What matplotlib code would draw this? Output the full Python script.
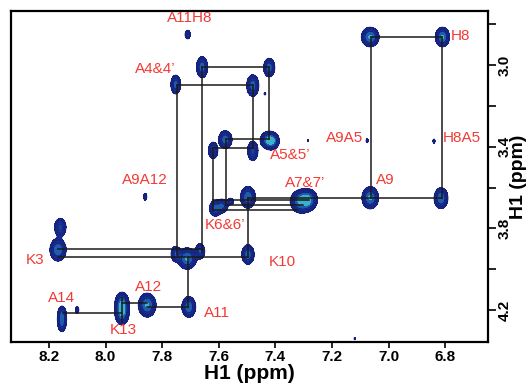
#!/usr/bin/env python3
import numpy as np
import matplotlib
matplotlib.use('Agg')
from matplotlib import pyplot as plt
from matplotlib.colors import ListedColormap

plt.rcParams['font.family'] = ['Liberation Sans', 'DejaVu Sans']

# cross peaks: centre (ppm), width (ppm), relative intensity
peak_x = [6.810, 7.065, 7.065, 6.815, 7.310, 7.285, 7.425, 7.410, 7.422, 7.659,
          7.752, 7.480, 7.577, 7.620, 7.480, 7.497, 7.612, 7.588, 7.558, 7.497,
          7.712, 7.752, 7.666, 8.168, 8.160, 7.706, 7.853, 7.942, 7.942, 8.154,
          8.154, 8.100, 7.710, 7.860, 7.076, 6.840, 7.285, 7.437, 7.120]
peak_y = [2.862, 2.862, 3.650, 3.652, 3.668, 3.660, 3.368, 3.372, 3.012, 3.010,
          3.095, 3.100, 3.365, 3.418, 3.420, 3.648, 3.702, 3.690, 3.668, 3.928,
          3.948, 3.925, 3.912, 3.905, 3.795, 4.185, 4.176, 4.170, 4.215, 4.225,
          4.262, 4.200, 2.850, 3.645, 3.370, 3.372, 3.370, 3.140, 4.340]
peak_sx = [0.012, 0.015, 0.014, 0.012, 0.018, 0.016, 0.014, 0.012, 0.010, 0.010,
           0.009, 0.011, 0.012, 0.009, 0.010, 0.013, 0.011, 0.011, 0.007, 0.011,
           0.016, 0.009, 0.009, 0.014, 0.011, 0.012, 0.015, 0.012, 0.012, 0.008,
           0.008, 0.004, 0.006, 0.004, 0.003, 0.003, 0.002, 0.003, 0.002]
peak_sy = [0.023, 0.023, 0.026, 0.025, 0.027, 0.025, 0.021, 0.020, 0.023, 0.026,
           0.024, 0.027, 0.022, 0.022, 0.026, 0.026, 0.020, 0.018, 0.011, 0.024,
           0.025, 0.020, 0.020, 0.027, 0.024, 0.025, 0.028, 0.028, 0.028, 0.024,
           0.024, 0.012, 0.014, 0.012, 0.008, 0.008, 0.005, 0.006, 0.006]
peak_amp = [1.0, 1.0, 1.0, 0.9, 1.0, 1.0, 0.9, 0.7, 0.8, 0.8,
            0.7, 0.75, 0.8, 0.6, 0.6, 0.9, 0.7, 0.6, 0.3, 0.8,
            1.0, 0.6, 0.6, 0.9, 0.6, 0.9, 1.0, 0.9, 0.9, 0.6,
            0.6, 0.3, 0.35, 0.3, 0.25, 0.25, 0.2, 0.2, 0.2]

# sequential walk: horizontal (y, x0, x1) and vertical (x, y0, y1) segments
walk_h = [(2.863, 7.062, 6.811), (3.010, 7.659, 7.423), (3.098, 7.748, 7.479),
          (3.363, 7.575, 7.423), (3.407, 7.620, 7.479), (3.652, 7.497, 6.811),
          (3.662, 7.620, 7.280), (3.686, 7.575, 7.302), (3.711, 7.620, 7.324),
          (3.902, 8.168, 7.659), (3.941, 8.168, 7.497), (4.216, 8.151, 7.942),
          (4.167, 7.942, 7.854), (4.186, 7.854, 7.709)]
walk_v = [(7.062, 2.863, 3.652), (6.811, 2.863, 3.652), (7.748, 3.098, 3.930),
          (7.659, 3.010, 3.915), (7.423, 3.010, 3.363), (7.479, 3.098, 3.407),
          (7.620, 3.407, 3.711), (7.575, 3.363, 3.686), (7.497, 3.652, 3.941),
          (7.709, 3.941, 4.186), (7.942, 4.142, 4.260)]

# assignments
label_text = ['A11H8', 'A4&4\u2019', 'A9A12', 'A9A5', 'H8A5', 'H8', 'A5&5\u2019',
              'A7&7\u2019', 'A9', 'K6&6\u2019', 'K3', 'K10', 'A14', 'A12', 'K13', 'A11']
label_x = [7.702, 7.825, 7.861, 7.154, 6.741, 6.745, 7.348, 7.295, 7.013, 7.578,
           8.249, 7.377, 8.154, 7.847, 7.939, 7.606]
label_y = [2.770, 3.020, 3.564, 3.358, 3.358, 2.858, 3.441, 3.578, 3.564, 3.784,
           3.956, 3.966, 4.142, 4.088, 4.299, 4.216]

fig = plt.figure(figsize=(5.32, 3.83), dpi=100)
ax = fig.add_axes([0.0207, 0.107, 0.8966, 0.864])

xx = np.linspace(6.64, 8.34, 700)
yy = np.linspace(2.72, 4.37, 600)
X, Y = np.meshgrid(xx, yy)
Z = np.zeros_like(X)
for x0, y0, sx, sy, a in zip(peak_x, peak_y, peak_sx, peak_sy, peak_amp):
    Z += a * np.exp(-((X - x0) ** 2 / (2 * sx ** 2) + (Y - y0) ** 2 / (2 * sy ** 2)))

levels = [0.11, 0.2, 0.32, 0.46, 0.6, 0.76, 0.93, 2.0]
cmap = ListedColormap(['#1b2b8c', '#1d3f9e', '#1f5cae', '#1f7bbb', '#2497c4', '#3ab2c9', '#6fcbd3'])
ax.contourf(X, Y, Z, levels=levels, cmap=cmap, zorder=1)
ax.contour(X, Y, Z, levels=levels[:4], colors='#14207a', linewidths=0.6, zorder=2)

for y, x0, x1 in walk_h:
    ax.plot([x0, x1], [y, y], color='#1a1a1a', lw=1.1, zorder=3)
for x, y0, y1 in walk_v:
    ax.plot([x, x], [y0, y1], color='#1a1a1a', lw=1.1, zorder=3)

for t, x, y in zip(label_text, label_x, label_y):
    ax.text(x, y, t, color='#f23a35', fontsize=11, ha='center', va='center', zorder=4)

ax.set_xlim(8.334, 6.649)
ax.set_ylim(4.357, 2.735)
ax.set_xticks([8.2, 8.0, 7.8, 7.6, 7.4, 7.2, 7.0, 6.8])
ax.set_xticklabels(['8.2', '8.0', '7.8', '7.6', '7.4', '7.2', '7.0', '6.8'],
                   fontsize=11, fontweight='bold')
ax.set_yticks([2.8, 3.0, 3.2, 3.4, 3.6, 3.8, 4.0, 4.2])
ax.set_yticklabels(['', '3.0', '', '3.4', '', '3.8', '', '4.2'],
                   fontsize=11, fontweight='bold', rotation=90, va='center')
ax.yaxis.tick_right()
ax.yaxis.set_label_position('right')
ax.tick_params(axis='x', direction='out', length=4, width=1.2, pad=2)
ax.tick_params(axis='y', direction='out', length=6, width=1.2, pad=1)
ax.set_xlabel('H1 (ppm)', fontsize=15, fontweight='bold', labelpad=0)
ax.set_ylabel('H1 (ppm)', fontsize=14, fontweight='bold', rotation=90, labelpad=-1)
for s in ax.spines.values():
    s.set_linewidth(1.6)

fig.savefig('out.png', dpi=100)
